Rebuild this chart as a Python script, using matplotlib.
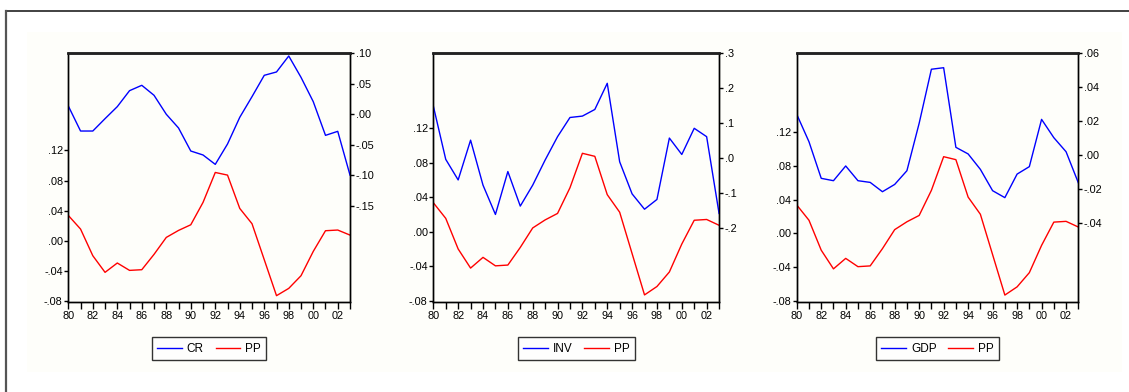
import numpy as np
import matplotlib
matplotlib.use('Agg')
from matplotlib import pyplot as plt
from matplotlib.lines import Line2D
from matplotlib.patches import Rectangle
from matplotlib.ticker import FuncFormatter

plt.rcParams['font.family'] = ['Liberation Sans', 'DejaVu Sans']

years = np.arange(1980, 2004)

pp = [0.0336, 0.0155, -0.0199, -0.0420, -0.0296, -0.0394, -0.0385, -0.0181,
      0.0044, 0.0137, 0.0212, 0.0509, 0.0907, 0.0872, 0.0429, 0.0226,
      -0.0252, -0.0730, -0.0633, -0.0465, -0.0142, 0.0133, 0.0142, 0.0075]

cr = [0.0136, -0.0275, -0.0275, -0.0072, 0.0125, 0.0387, 0.0475, 0.0311,
      0.0000, -0.0225, -0.0603, -0.0668, -0.0822, -0.0488, -0.0050, 0.0289,
      0.0639, 0.0694, 0.0956, 0.0606, 0.0207, -0.0346, -0.0280, -0.0997]

inv = [0.149, -0.004, -0.063, 0.051, -0.078, -0.162, -0.039, -0.138,
       -0.078, -0.006, 0.061, 0.116, 0.120, 0.139, 0.214, -0.011,
       -0.103, -0.147, -0.119, 0.057, 0.010, 0.085, 0.061, -0.159]

gdp = [0.0240, 0.0078, -0.0138, -0.0152, -0.0065, -0.0152, -0.0162, -0.0217,
       -0.0174, -0.0093, 0.0187, 0.0506, 0.0515, 0.0045, 0.0006, -0.0085,
       -0.0211, -0.0252, -0.0113, -0.0069, 0.0210, 0.0102, 0.0019, -0.0164]

pp_ticks = [-0.08, -0.04, 0.00, 0.04, 0.08, 0.12]

panels = [
    ('CR', cr, [0.0605, 0.2296, 0.2495, 0.6344], (-0.0814, 0.249), (-0.308, 0.10),
     [0.10, 0.05, 0.00, -0.05, -0.10, -0.15], 2),
    ('INV', inv, [0.3838, 0.2296, 0.2531, 0.6344], (-0.0812, 0.2063), (-0.413, 0.30),
     [0.3, 0.2, 0.1, 0.0, -0.1, -0.2], 1),
    ('GDP', gdp, [0.7057, 0.2296, 0.2494, 0.6344], (-0.0812, 0.213), (-0.0868, 0.06),
     [0.06, 0.04, 0.02, 0.00, -0.02, -0.04], 2),
]


def dec_fmt(nd):
    def f(v, pos):
        s = f'{v:.{nd}f}'
        if s.startswith('-0'):
            s = '-' + s[2:]
        elif s.startswith('0'):
            s = s[1:]
        return s
    return FuncFormatter(f)


fig = plt.figure(figsize=(11.29, 3.92), dpi=100)

# faint page background and frame
bg = Rectangle((27 / 1129, 1 - 372 / 392), 1095 / 1129, 340 / 392,
               transform=fig.transFigure, facecolor='#fefefa',
               edgecolor='none', zorder=-10)
fig.add_artist(bg)
fig.add_artist(Line2D([6 / 1129, 1], [1 - 10.7 / 392, 1 - 10.7 / 392],
                      transform=fig.transFigure, color='#333333', lw=1.3))
fig.add_artist(Line2D([6 / 1129, 6 / 1129], [0, 1 - 10.7 / 392],
                      transform=fig.transFigure, color='#555555', lw=1.6))

for name, vals, pos, lim_l, lim_r, rticks, nd in panels:
    ax = fig.add_axes(pos)
    ax.set_facecolor('none')
    ax2 = ax.twinx()
    l2, = ax.plot(years, pp, color='#ff0000', lw=1.0, label='PP')
    l1, = ax2.plot(years, vals, color='#0000ff', lw=1.0, label=name)
    ax.set_xlim(1980, 2003)
    ax.set_ylim(*lim_l)
    ax2.set_ylim(*lim_r)
    ax.set_yticks(pp_ticks)
    ax.yaxis.set_major_formatter(dec_fmt(2))
    ax2.set_yticks(rticks)
    ax2.yaxis.set_major_formatter(dec_fmt(nd))
    ax.set_xticks(years)
    ax.set_xticklabels([f'{y % 100:02d}' if y % 2 == 0 else '' for y in years])
    ax.tick_params(axis='x', direction='out', length=5, width=1, pad=1.5, labelsize=7.8)
    ax.tick_params(axis='y', direction='out', length=3, width=1, pad=1, labelsize=7.8)
    ax2.tick_params(axis='y', direction='out', length=3, width=1, pad=1, labelsize=7.8)
    for a in (ax, ax2):
        for s in ('left', 'right', 'bottom'):
            a.spines[s].set_linewidth(1.0)
        a.spines['top'].set_linewidth(1.8)
        a.spines['top'].set_color('#222222')
    leg = ax.legend([l1, l2], [name, 'PP'], loc='center', bbox_to_anchor=(0.5, -0.188),
                    ncol=2, fontsize=8.5, frameon=True, fancybox=False,
                    handlelength=2.1, handletextpad=0.4, columnspacing=1.0,
                    borderpad=0.45)
    leg.get_frame().set_edgecolor('black')
    leg.get_frame().set_linewidth(1.0)

fig.savefig('out.png', dpi=100)
